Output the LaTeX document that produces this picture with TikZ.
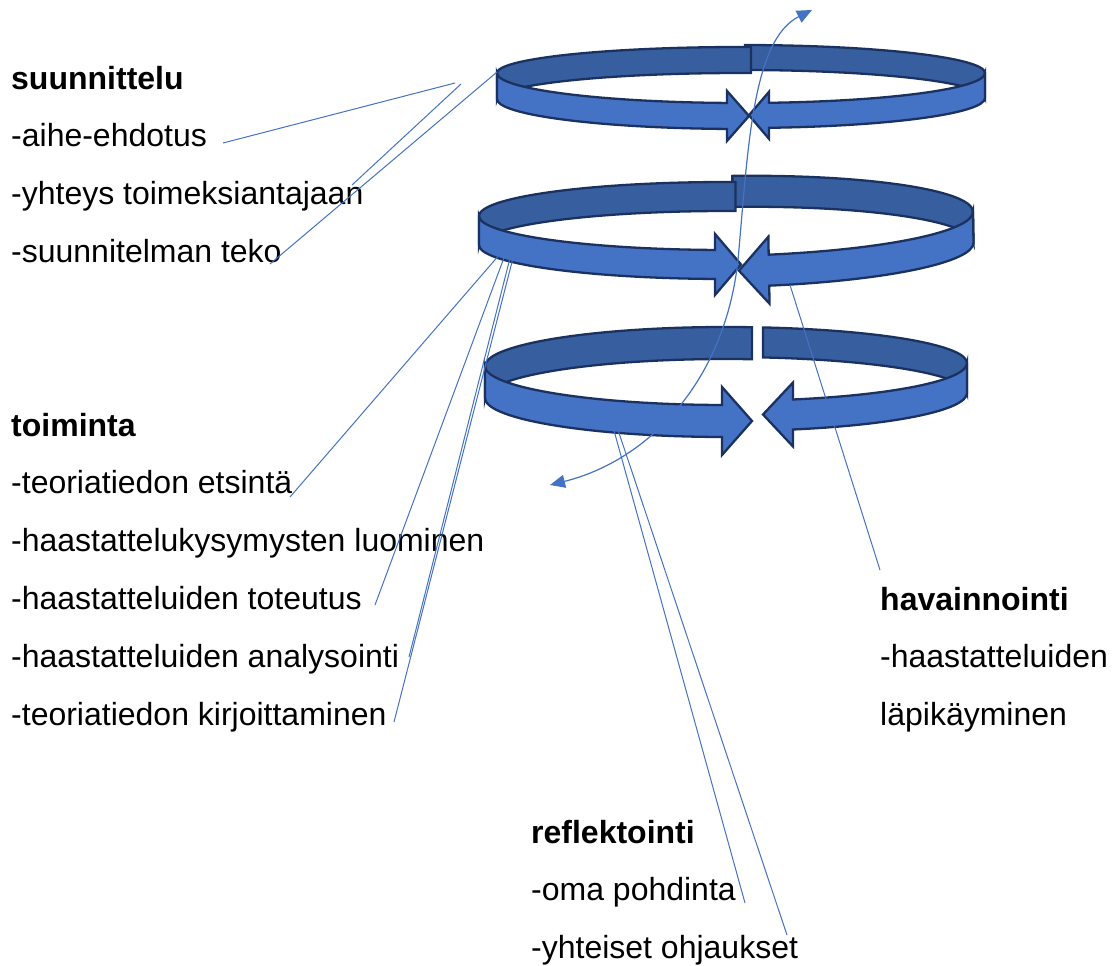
\documentclass[tikz,border=0pt]{standalone}
\usepackage{fontspec}
\setmainfont{Liberation Sans}
\usetikzlibrary{arrows.meta}

\definecolor{bandfront}{HTML}{4472C4}
\definecolor{bandback}{HTML}{375E9E}
\definecolor{bandline}{HTML}{1B3260}
\definecolor{linkblue}{HTML}{4472C4}

\tikzset{
  frontband/.style={fill=bandfront, draw=bandline, line width=2.3pt, line join=miter},
  backband/.style={fill=bandback, draw=bandline, line width=2.3pt},
  link/.style={draw=linkblue, line width=1pt},
  cyclearrow/.style={draw=linkblue, line width=1.2pt,
    {Triangle[length=15pt,width=13pt]}-{Triangle[length=15pt,width=13pt]}},
  lbl/.style={anchor=base west, inner sep=0pt, font=\fontsize{32}{38}\selectfont},
  head/.style={lbl, font=\fontsize{32}{38}\selectfont\bfseries}
}

% back half of a ring: cx, cy, rx, ry, h, side (-1/1), seam x
\newcommand\ringback[7]{%
  \pgfmathsetmacro\aS{-acos((#7-#1)/#3)}%
  \pgfmathsetmacro\aE{-90+90*#6}%
  \pgfmathsetmacro\yS{#2+#4*sin(\aS)}%
  \filldraw[backband] (#7,\yS)
    arc[start angle=\aS, end angle=\aE, x radius=#3, y radius=#4]
    -- ++(0,#5)
    arc[start angle=\aE, end angle=\aS, x radius=#3, y radius=#4] -- cycle;}

% front half with arrow head: cx, cy, rx, ry, h, side, base x, tip x, flare
\newcommand\ringfront[9]{%
  \pgfmathsetmacro\aS{90-90*#6}%
  \pgfmathsetmacro\aB{acos((#7-#1)/#3)}%
  \pgfmathsetmacro\xS{#1+#6*#3}%
  \pgfmathsetmacro\yT{#2+#4*sin(\aB)}%
  \filldraw[frontband] (\xS,#2)
    arc[start angle=\aS, end angle=\aB, x radius=#3, y radius=#4]
    -- (#7,\yT-#9) -- (#8,\yT+#5/2) -- (#7,\yT+#5+#9) -- (#7,\yT+#5)
    arc[start angle=\aB, end angle=\aS, x radius=#3, y radius=#4] -- cycle;}

\begin{document}
\begin{tikzpicture}[x=1pt, y=-1pt]
  \useasboundingbox (0,0) rectangle (1119,966);

  % ring 1
  \ringback{741}{73}{244}{28}{25}{1}{745}
  \ringback{741}{73}{244}{26}{26}{-1}{751}
  \ringfront{741}{73}{244}{30}{26}{-1}{727}{749}{12}
  \ringfront{741}{73}{244}{30}{25}{1}{769}{749}{11}

  % ring 2
  \begin{scope}[rotate around={1:(726,216)}]
    \ringback{726}{216}{247}{40}{31}{1}{733}
  \end{scope}
  \ringback{726}{216}{247}{34}{29}{-1}{735.5}
  \ringfront{726}{216}{247}{34}{29}{-1}{715}{741}{16}
  \begin{scope}[rotate around={1:(726,216)}]
    \ringfront{726}{216}{247}{40}{31}{1}{768}{738}{18}
  \end{scope}

  % ring 3
  \ringback{726}{363}{241}{36}{30}{1}{763}
  \ringback{726}{366}{241}{39}{32}{-1}{752}
  \ringfront{726}{366}{241}{39}{32}{-1}{722}{752}{18}
  \ringfront{726}{363}{241}{38}{30}{1}{793}{763}{17}

  % texts
  \def \suun {{-aihe-ehdotus},{-yhteys toimeksiantajaan},{-suunnitelman teko}}
  \def \toim {{-teoriatiedon etsintä},{-haastattelukysymysten luominen},
    {-haastatteluiden toteutus},{-haastatteluiden analysointi},
    {-teoriatiedon kirjoittaminen}}
  \def \hava {{-haastatteluiden},{läpikäyminen}}
  \def \refl {{-oma pohdinta},{-yhteiset ohjaukset}}

  \node[head] (suun) at (11,89) {suunnittelu};
  \foreach \t [count=\i] in \suun
    \node[lbl] (suun\i) at (11,{89+57.7*\i}) {\t};
  \node[head] (toim) at (11,436) {toiminta};
  \foreach \t [count=\i] in \toim
    \node[lbl] (toim\i) at (11,{436+57.8*\i}) {\t};
  \node[head] (hava) at (880,610) {havainnointi};
  \foreach \t [count=\i] in \hava
    \node[lbl] (hava\i) at (880,{610+57.8*\i}) {\t};
  \node[head] (refl) at (531,843) {reflektointi};
  \foreach \t [count=\i] in \refl
    \node[lbl] (refl\i) at (531,{843+57.5*\i}) {\t};

  % connector ends
  \coordinate (aihe) at (223,143);   \coordinate (p1) at (455,83);
  \coordinate (yhteys) at (352,185); \coordinate (p2) at (461,84);
  \coordinate (teko) at (270,264);   \coordinate (p3) at (497,72);
  \coordinate (etsinta) at (290,497);  \coordinate (q1) at (500,254);
  \coordinate (toteutus) at (375,605); \coordinate (q2) at (505,255);
  \coordinate (analyysi) at (409,657); \coordinate (q3) at (510,258);
  \coordinate (kirjoitus) at (394,722); \coordinate (q4) at (513,258);
  \coordinate (pohdinta) at (745,903); \coordinate (r1) at (613,427);
  \coordinate (ohjaus) at (787,935);   \coordinate (r2) at (617,427);
  \coordinate (lapikaynti) at (880,570); \coordinate (h1) at (790,285);

  \foreach \a/\b in {aihe/p1, yhteys/p2, teko/p3, etsinta/q1, toteutus/q2,
      analyysi/q3, kirjoitus/q4, pohdinta/r1, ohjaus/r2, lapikaynti/h1}
    \draw[link] (\a) -- (\b);

  \coordinate (c1) at (550,485);
  \coordinate (c2) at (738,260);
  \coordinate (c3) at (812,10);
  \draw[cyclearrow] (c1) .. controls (650,460) and (725,380) .. (c2)
    .. controls (748,150) and (752,40) .. (c3);
\end{tikzpicture}
\end{document}
